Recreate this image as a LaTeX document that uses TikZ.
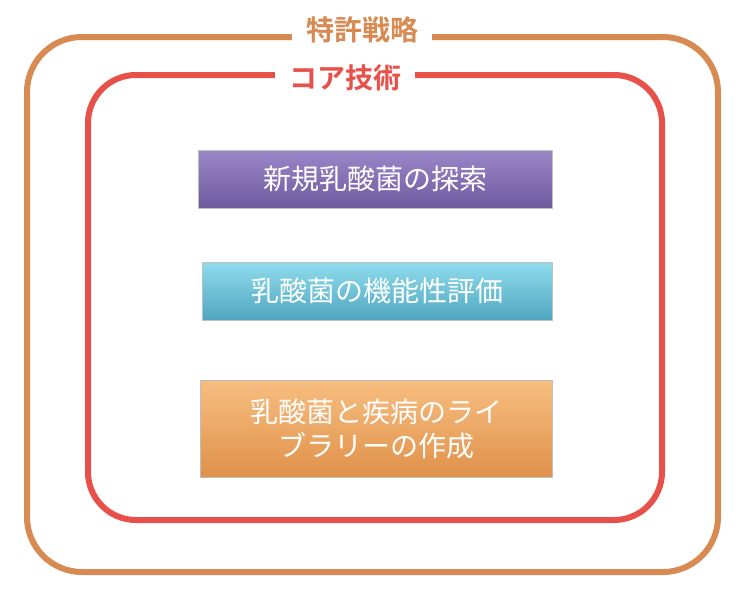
\documentclass[tikz,border=0pt]{standalone}
\usepackage{fontspec}
\newfontfamily\cjk{Noto Sans CJK JP}
\newfontfamily\cjkb{Noto Sans CJK JP Bold}
\begin{document}
\begin{tikzpicture}[x=1pt,y=-1pt,
  frame/.style={line width=6pt,rounded corners=55pt},
  card/.style={draw=black!25,line width=0.6pt,minimum height=58pt,font=\cjk\fontsize{28}{34}\selectfont,text=white,align=center,anchor=north west},
  title/.style={font=\cjkb\fontsize{28}{30}\selectfont,fill=white,inner xsep=14pt}]
\useasboundingbox (0,0) rectangle (750,589);
\definecolor{orframe}{HTML}{D78A52}
\definecolor{redframe}{HTML}{E8504A}
\definecolor{pu1}{HTML}{9B86C8}\definecolor{pu2}{HTML}{6E5A9E}
\definecolor{bl1}{HTML}{8FDCEC}\definecolor{bl2}{HTML}{4FA6C0}
\definecolor{or1}{HTML}{F7BE80}\definecolor{or2}{HTML}{E0914A}
\draw[frame,orframe] (27,37) rectangle (718,572);
\draw[frame,redframe,rounded corners=48pt] (88,75) rectangle (662,520);
\node[title,text=orframe] (t1) at (362,30) {特許戦略};
\node[title,text=redframe] (t2) at (345,78) {コア技術};
\node[card,minimum width=354pt,top color=pu1,bottom color=pu2] (a) at (198,150) {新規乳酸菌の探索};
\node[card,minimum width=350pt,top color=bl1,bottom color=bl2] (b) at (202,262) {乳酸菌の機能性評価};
\node[card,minimum width=352pt,minimum height=97pt,top color=or1,bottom color=or2] (c) at (200,380) {乳酸菌と疾病のライ\\ブラリーの作成};
\end{tikzpicture}
\end{document}
